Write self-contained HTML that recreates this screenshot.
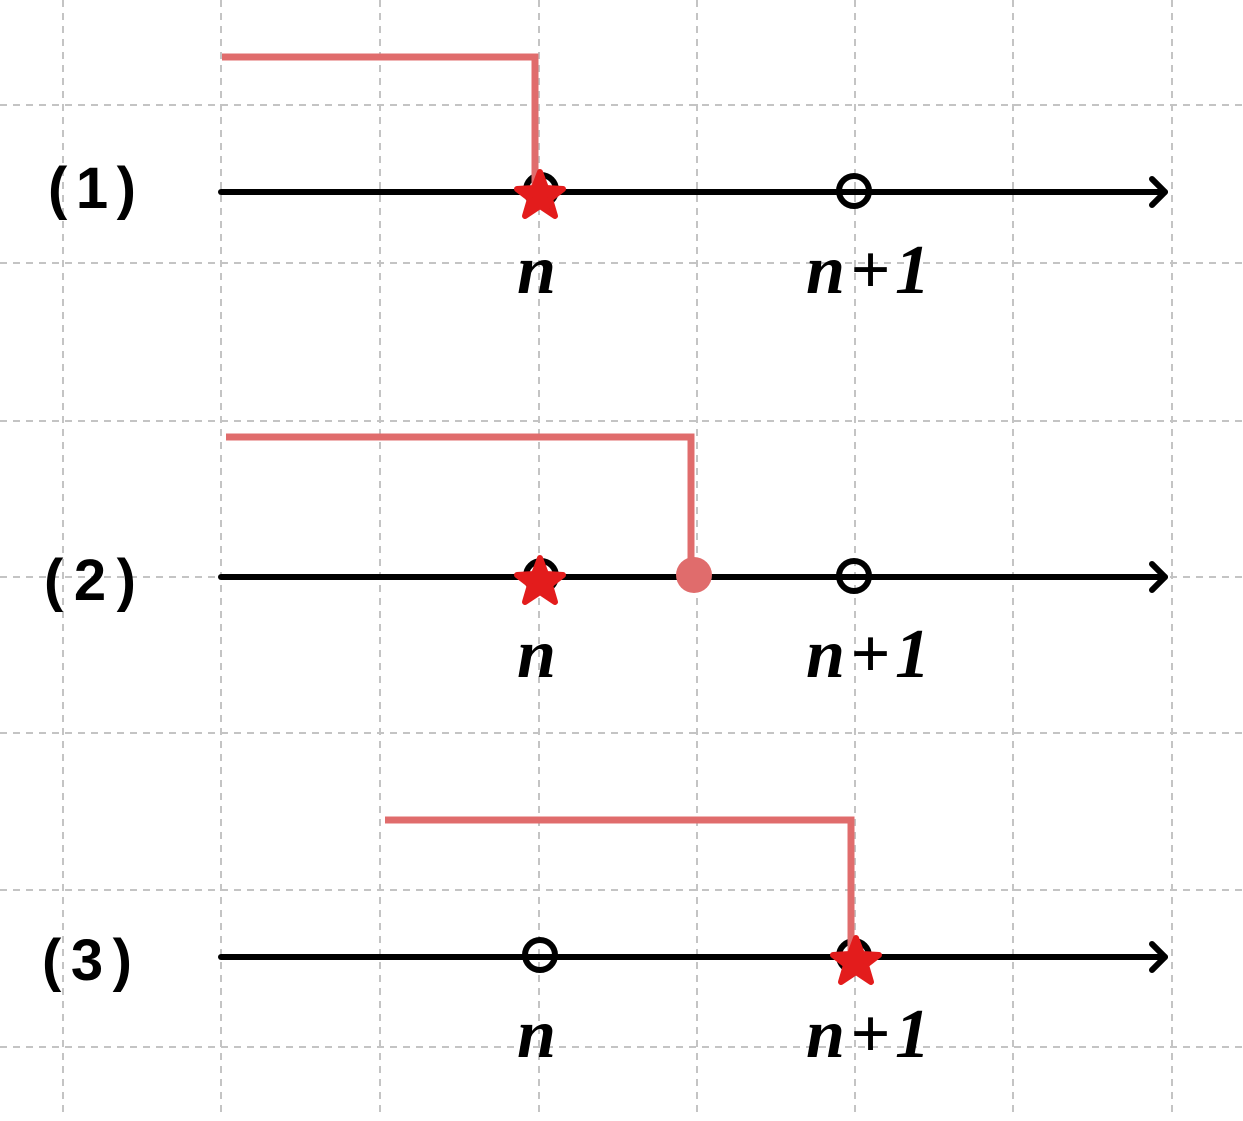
<!DOCTYPE html>
<html><head><style>body{margin:0;background:#fff}</style></head><body>
<svg width="1243" height="1116" viewBox="0 0 1243 1116" xmlns="http://www.w3.org/2000/svg">
<g stroke="#c4c4c4" stroke-width="2" stroke-dasharray="7,6">
<line x1="63" y1="0" x2="63" y2="1116"/><line x1="221" y1="0" x2="221" y2="1116"/><line x1="380" y1="0" x2="380" y2="1116"/><line x1="539" y1="0" x2="539" y2="1116"/><line x1="697" y1="0" x2="697" y2="1116"/><line x1="855" y1="0" x2="855" y2="1116"/><line x1="1013" y1="0" x2="1013" y2="1116"/><line x1="1172" y1="0" x2="1172" y2="1116"/>
<line x1="0" y1="105" x2="1243" y2="105"/><line x1="0" y1="263" x2="1243" y2="263"/><line x1="0" y1="421" x2="1243" y2="421"/><line x1="0" y1="577" x2="1243" y2="577"/><line x1="0" y1="733" x2="1243" y2="733"/><line x1="0" y1="890" x2="1243" y2="890"/><line x1="0" y1="1047" x2="1243" y2="1047"/>
</g>
<g stroke="#000" stroke-width="6" fill="none" stroke-linecap="round" stroke-linejoin="round">
<line x1="221" y1="192" x2="1165" y2="192"/><polyline points="1152,179 1165,192 1152,205"/>
<line x1="221" y1="577" x2="1165" y2="577"/><polyline points="1152,564 1165,577 1152,590"/>
<line x1="221" y1="957" x2="1165" y2="957"/><polyline points="1152,944 1165,957 1152,970"/>
<circle cx="541" cy="190" r="15"/><circle cx="854" cy="191" r="15"/>
<circle cx="541" cy="576" r="15"/><circle cx="854" cy="576" r="15"/>
<circle cx="540" cy="955" r="15"/><circle cx="854" cy="956" r="15"/>
</g>
<g stroke="#e06c6c" stroke-width="7" fill="none">
<polyline points="222,57 535,57 535,192"/>
<polyline points="226,437 691,437 691,575"/>
<polyline points="385,820 851,820 851,955"/>
</g>
<circle cx="694" cy="575" r="18" fill="#e06c6c"/>
<g fill="#e31c1c" stroke="#e31c1c" stroke-width="6" stroke-linejoin="round">
<polygon points="540,172 546,188 563,189 550,199 555,216 540,206 525,216 530,199 517,189 534,188"/>
<polygon points="540,558 546,574 563,575 550,585 555,602 540,592 525,602 530,585 517,575 534,574"/>
<polygon points="856,938 862,954 879,955 866,965 871,982 856,972 841,982 846,965 833,955 850,954"/>
</g>
<g font-family="Liberation Serif, serif" font-style="italic" font-weight="bold" font-size="70" fill="#000">
<text x="517" y="293">n</text><text x="806" y="293" textLength="124">n+1</text>
<text x="517" y="677">n</text><text x="806" y="677" textLength="124">n+1</text>
<text x="517" y="1057">n</text><text x="806" y="1057" textLength="124">n+1</text>
</g>
<g font-family="Liberation Sans, sans-serif" font-weight="bold" font-size="58" fill="#000">
<text x="48" y="208" textLength="88">(1)</text>
<text x="44" y="600" textLength="92">(2)</text>
<text x="42" y="980" textLength="90">(3)</text>
</g>
</svg>
</body></html>
